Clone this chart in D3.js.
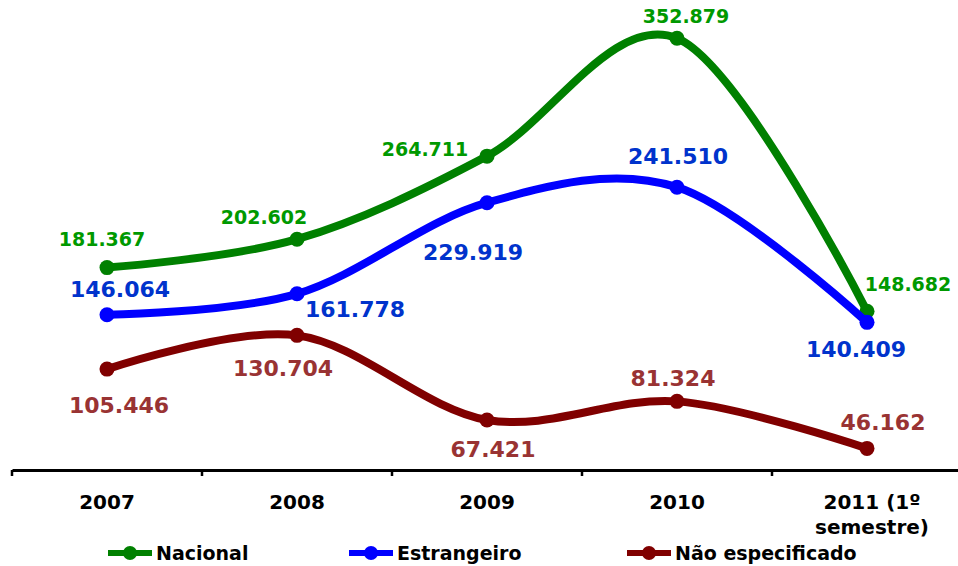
<!DOCTYPE html>
<html>
<head>
<meta charset="utf-8">
<script src="https://cdn.jsdelivr.net/npm/d3@7"></script>
<style>
  body { margin: 0; background: #fff; }
  svg { font-family: "DejaVu Sans", Verdana, sans-serif; font-weight: bold; }
</style>
</head>
<body>
<div id="chart"></div>
<script>
// data
var categories = ["2007", "2008", "2009", "2010", "2011 (1º semestre)"];
var nacional = [181367, 202602, 264711, 352879, 148682];
var estrangeiro = [146064, 161778, 229919, 241510, 140409];
var naoEspecificado = [105446, 130704, 67421, 81324, 46162];
var seriesNames = ["Nacional", "Estrangeiro", "Não especificado"];

// label offsets from each point (dx, dy)
var labelOffsets = [
    [[-5, -22], [-33, -15], [-62, 0], [9, -15], [41, -20]],
    [[13, -18], [58, 23], [-14, 57], [1, -23], [-11, 35]],
    [[12, 44], [-14, 41], [6, 37], [-4, -15], [16, -18]]
];
var lineColors = ["#008000", "#0000ff", "#800000"];
var labelColors = ["#009900", "#0033cc", "#993333"];
var labelSizes = [19, 22, 22];

var width = 958, height = 566;
var svg = d3.select("#chart").append("svg")
    .attr("width", width)
    .attr("height", height);

var x = d3.scaleBand()
    .domain(categories)
    .range([12, 962]);

var y = d3.scaleLinear()
    .domain([30000, 380000])
    .range([470, 2]);

var pt = d3.formatLocale({ decimal: ",", thousands: ".", grouping: [3], currency: ["R$", ""] });
var fmt = pt.format(",d");

// axis
var axis = svg.append("g")
    .attr("transform", "translate(0,470)")
    .call(d3.axisBottom(x).tickSize(0).tickFormat(""));
axis.select(".domain").attr("stroke", "#000").attr("stroke-width", 3);

svg.selectAll(".tick-mark")
    .data(categories)
    .enter().append("line")
    .attr("x1", function (d) { return x(d); })
    .attr("x2", function (d) { return x(d); })
    .attr("y1", 470).attr("y2", 476)
    .attr("stroke", "#000").attr("stroke-width", 2.5);

var catLabels = svg.selectAll(".cat")
    .data(categories)
    .enter().append("text")
    .attr("text-anchor", "middle")
    .attr("font-size", 20)
    .attr("fill", "#000")
    .attr("x", function (d) { return x(d) + x.bandwidth() / 2 + (d.length > 4 ? 5 : 0); })
    .attr("y", 509);
catLabels.each(function (d) {
    var parts = d.length > 4 ? ["2011 (1º", "semestre)"] : [d];
    var t = d3.select(this);
    parts.forEach(function (p, i) {
        t.append("tspan").attr("x", t.attr("x")).attr("dy", i ? 25 : 0).text(p);
    });
});

// lines
var allSeries = [nacional, estrangeiro, naoEspecificado];
var line = d3.line()
    .x(function (d, i) { return x(categories[i]) + x.bandwidth() / 2; })
    .y(function (d) { return y(d); })
    .curve(d3.curveCatmullRom.alpha(0));

allSeries.forEach(function (vals, s) {
    var g = svg.append("g");
    g.append("path")
        .datum(vals)
        .attr("d", line)
        .attr("fill", "none")
        .attr("stroke", lineColors[s])
        .attr("stroke-width", 8)
        .attr("stroke-linejoin", "round");
    g.selectAll("circle")
        .data(vals)
        .enter().append("circle")
        .attr("cx", function (d, i) { return x(categories[i]) + x.bandwidth() / 2; })
        .attr("cy", function (d) { return y(d); })
        .attr("r", 7.5)
        .attr("fill", lineColors[s]);
    g.selectAll("text")
        .data(vals)
        .enter().append("text")
        .attr("text-anchor", "middle")
        .attr("font-size", labelSizes[s])
        .attr("fill", labelColors[s])
        .attr("x", function (d, i) { return x(categories[i]) + x.bandwidth() / 2 + labelOffsets[s][i][0]; })
        .attr("y", function (d, i) { return y(d) + labelOffsets[s][i][1]; })
        .text(function (d) { return fmt(d); });
});

// legend
var legendX = [108, 349, 627];
var legend = svg.selectAll(".legend")
    .data(seriesNames)
    .enter().append("g")
    .attr("transform", function (d, i) { return "translate(" + legendX[i] + ",553)"; });
legend.append("line")
    .attr("x1", 0).attr("x2", 44)
    .attr("stroke", function (d, i) { return lineColors[i]; })
    .attr("stroke-width", 6);
legend.append("circle")
    .attr("cx", 22).attr("r", 7)
    .attr("fill", function (d, i) { return lineColors[i]; });
legend.append("text")
    .attr("x", 48).attr("y", 7)
    .attr("font-size", 19)
    .attr("fill", "#000")
    .text(function (d) { return d; });
</script>
</body>
</html>
